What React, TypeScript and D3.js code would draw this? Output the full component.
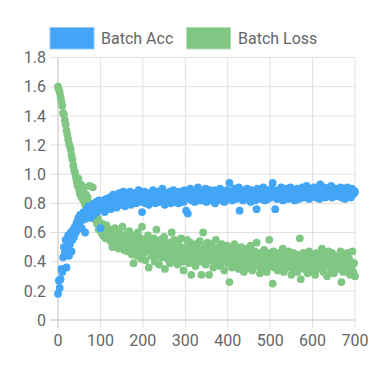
import React from "react";
import * as d3 from "d3";

// Batch index step between logged points
const BATCH_STEP = 2;

const seriesNames = ["Batch Acc", "Batch Loss"];

const batchAcc = [
  0.18, 0.27, 0.22, 0.28, 0.35, 0.33, 0.43, 0.50, 0.46, 0.55,
  0.36, 0.48, 0.58, 0.44, 0.52, 0.60, 0.47, 0.55, 0.62, 0.57,
  0.64, 0.60, 0.67, 0.62, 0.70, 0.65, 0.72, 0.68, 0.63, 0.71,
  0.74, 0.69, 0.60, 0.73, 0.76, 0.71, 0.78, 0.74, 0.70, 0.77,
  0.75, 0.79, 0.72, 0.80, 0.76, 0.81, 0.74, 0.78, 0.82, 0.77,
  0.63, 0.79, 0.76, 0.82, 0.78, 0.74, 0.80, 0.83, 0.77, 0.81,
  0.79, 0.84, 0.76, 0.82, 0.80, 0.86, 0.78, 0.83, 0.81, 0.77,
  0.84, 0.80, 0.87, 0.82, 0.79, 0.85, 0.81, 0.88, 0.83, 0.78,
  0.86, 0.82, 0.80, 0.85, 0.83, 0.88, 0.79, 0.84, 0.81, 0.86,
  0.83, 0.87, 0.80, 0.85, 0.82, 0.89, 0.84, 0.81, 0.86, 0.74,
  0.85, 0.82, 0.88, 0.80, 0.84, 0.86, 0.83, 0.79, 0.87, 0.82,
  0.84, 0.81, 0.89, 0.83, 0.86, 0.80, 0.85, 0.82, 0.88, 0.84,
  0.81, 0.86, 0.83, 0.90, 0.82, 0.85, 0.79, 0.87, 0.84, 0.81,
  0.86, 0.83, 0.88, 0.80, 0.85, 0.82, 0.89, 0.84, 0.81, 0.87,
  0.83, 0.86, 0.80, 0.88, 0.84, 0.82, 0.87, 0.85, 0.81, 0.89,
  0.84, 0.75, 0.86, 0.73, 0.88, 0.83, 0.90, 0.85, 0.82, 0.87,
  0.84, 0.81, 0.88, 0.86, 0.83, 0.91, 0.85, 0.82, 0.87, 0.84,
  0.88, 0.82, 0.86, 0.84, 0.90, 0.81, 0.87, 0.85, 0.83, 0.89,
  0.85, 0.82, 0.88, 0.84, 0.86, 0.80, 0.89, 0.85, 0.83, 0.87,
  0.84, 0.90, 0.86, 0.82, 0.88, 0.85, 0.81, 0.87, 0.84, 0.89,
  0.86, 0.83, 0.94, 0.85, 0.88, 0.82, 0.87, 0.84, 0.90, 0.86,
  0.83, 0.88, 0.85, 0.91, 0.75, 0.87, 0.84, 0.89, 0.82, 0.86,
  0.88, 0.84, 0.86, 0.90, 0.83, 0.87, 0.85, 0.81, 0.89, 0.86,
  0.84, 0.88, 0.82, 0.86, 0.76, 0.90, 0.85, 0.87, 0.83, 0.89,
  0.86, 0.84, 0.91, 0.85, 0.82, 0.88, 0.86, 0.83, 0.89, 0.85,
  0.87, 0.84, 0.90, 0.94, 0.85, 0.88, 0.76, 0.86, 0.83, 0.89,
  0.85, 0.88, 0.84, 0.91, 0.86, 0.82, 0.89, 0.87, 0.84, 0.90,
  0.86, 0.83, 0.88, 0.85, 0.91, 0.87, 0.84, 0.89, 0.86, 0.82,
  0.88, 0.85, 0.90, 0.86, 0.83, 0.89, 0.87, 0.84, 0.91, 0.86,
  0.84, 0.89, 0.86, 0.92, 0.85, 0.88, 0.83, 0.87, 0.90, 0.86,
  0.88, 0.85, 0.91, 0.87, 0.84, 0.89, 0.86, 0.90, 0.83, 0.93,
  0.87, 0.85, 0.89, 0.86, 0.91, 0.84, 0.88, 0.86, 0.90, 0.85,
  0.88, 0.86, 0.92, 0.84, 0.89, 0.87, 0.85, 0.90, 0.86, 0.88,
  0.85, 0.89, 0.87, 0.91, 0.84, 0.88, 0.86, 0.90, 0.83, 0.89,
  0.87, 0.91, 0.85, 0.89, 0.88, 0.84, 0.90, 0.86, 0.89, 0.87,
  0.88,
];

const batchLoss = [
  1.60, 1.58, 1.56, 1.53, 1.50, 1.47, 1.42, 1.41, 1.37, 1.34,
  1.30, 1.27, 1.24, 1.21, 1.19, 1.17, 1.13, 1.10, 1.06, 1.03,
  1.01, 0.98, 0.95, 0.92, 0.97, 0.89, 0.86, 0.93, 0.84, 0.88,
  0.82, 0.91, 0.79, 0.86, 0.80, 0.84, 0.77, 0.92, 0.80, 0.75,
  0.78, 0.91, 0.72, 0.75, 0.69, 0.73, 0.66, 0.70, 0.62, 0.67,
  0.64, 0.60, 0.66, 0.58, 0.63, 0.61, 0.56, 0.65, 0.59, 0.62,
  0.57, 0.62, 0.54, 0.60, 0.50, 0.58, 0.55, 0.63, 0.52, 0.59,
  0.56, 0.49, 0.61, 0.53, 0.58, 0.51, 0.64, 0.55, 0.48, 0.57,
  0.52, 0.59, 0.47, 0.55, 0.61, 0.50, 0.56, 0.45, 0.53, 0.39,
  0.58, 0.49, 0.54, 0.44, 0.60, 0.51, 0.47, 0.56, 0.42, 0.64,
  0.50, 0.46, 0.55, 0.41, 0.52, 0.48, 0.58, 0.36, 0.49, 0.53,
  0.44, 0.51, 0.47, 0.56, 0.40, 0.50, 0.62, 0.45, 0.53, 0.38,
  0.48, 0.55, 0.43, 0.50, 0.46, 0.57, 0.35, 0.49, 0.52, 0.42,
  0.47, 0.53, 0.39, 0.50, 0.60, 0.44, 0.48, 0.55, 0.41, 0.51,
  0.45, 0.38, 0.52, 0.47, 0.43, 0.56, 0.40, 0.49, 0.34, 0.46,
  0.50, 0.42, 0.55, 0.46, 0.39, 0.48, 0.53, 0.31, 0.44, 0.51,
  0.41, 0.47, 0.37, 0.52, 0.45, 0.49, 0.40, 0.54, 0.43, 0.31,
  0.46, 0.60, 0.42, 0.50, 0.38, 0.47, 0.53, 0.44, 0.31, 0.48,
  0.41, 0.52, 0.45, 0.36, 0.49, 0.43, 0.55, 0.39, 0.47, 0.42,
  0.50, 0.37, 0.45, 0.52, 0.40, 0.46, 0.34, 0.48, 0.43, 0.51,
  0.39, 0.45, 0.26, 0.49, 0.42, 0.36, 0.47, 0.41, 0.52, 0.38,
  0.44, 0.40, 0.48, 0.35, 0.46, 0.42, 0.50, 0.37, 0.43, 0.33,
  0.47, 0.41, 0.38, 0.49, 0.44, 0.36, 0.45, 0.51, 0.40, 0.34,
  0.43, 0.39, 0.47, 0.42, 0.53, 0.37, 0.45, 0.40, 0.32, 0.46,
  0.41, 0.35, 0.44, 0.48, 0.38, 0.43, 0.33, 0.46, 0.40, 0.55,
  0.37, 0.44, 0.41, 0.25, 0.47, 0.36, 0.42, 0.39, 0.45, 0.34,
  0.40, 0.46, 0.35, 0.43, 0.38, 0.49, 0.33, 0.41, 0.45, 0.37,
  0.42, 0.36, 0.47, 0.39, 0.44, 0.31, 0.40, 0.46, 0.35, 0.43,
  0.38, 0.45, 0.33, 0.41, 0.37, 0.56, 0.28, 0.43, 0.39, 0.46,
  0.35, 0.42, 0.38, 0.44, 0.32, 0.40, 0.47, 0.36, 0.41, 0.34,
  0.43, 0.37, 0.45, 0.31, 0.40, 0.46, 0.35, 0.42, 0.38, 0.44,
  0.36, 0.49, 0.41, 0.33, 0.45, 0.38, 0.43, 0.30, 0.40, 0.47,
  0.37, 0.42, 0.34, 0.46, 0.39, 0.32, 0.44, 0.38, 0.41, 0.35,
  0.43, 0.36, 0.40, 0.47, 0.26, 0.39, 0.33, 0.44, 0.37, 0.41,
  0.34, 0.46, 0.38, 0.42, 0.31, 0.40, 0.36, 0.47, 0.33, 0.39,
  0.30,
];

const xTicks = [0, 100, 200, 300, 400, 500, 600, 700];
const yTicks = [0, 0.2, 0.4, 0.6, 0.8, 1.0, 1.2, 1.4, 1.6, 1.8];
const yTickLabels = ["0", "0.2", "0.4", "0.6", "0.8", "1.0", "1.2", "1.4", "1.6", "1.8"];

const COLORS = ["#42A5F5", "#81C784"];
const BORDERS = ["#90CAF9", "#B5DEB7"];
const FONT = "Roboto, 'Noto Sans', sans-serif";
const TEXT = "#666";

export default function App() {
  const W = 375, H = 375;
  const x = d3.scaleLinear().domain([0, 700]).range([58, 355]);
  const y = d3.scaleLinear().domain([0, 1.8]).range([320, 57.5]);
  const grid = "#e0e0e0";

  const series = [batchLoss, batchAcc]; // loss drawn first, acc on top
  const colorFor = [COLORS[1], COLORS[0]];

  return (
    <svg width={W} height={H} style={{ position: "absolute", left: 0, top: 0, background: "#fff" }}>
      {/* grid */}
      {yTicks.map((t) => (
        <line key={"gy" + t} x1={50} x2={x(700)} y1={y(t)} y2={y(t)} stroke={grid} strokeWidth={1} />
      ))}
      {xTicks.map((t) => (
        <line key={"gx" + t} x1={x(t)} x2={x(t)} y1={y(1.8)} y2={328} stroke={grid} strokeWidth={1} />
      ))}
      <line x1={x(0)} x2={x(0)} y1={y(1.8)} y2={328} stroke="#d0d0d0" strokeWidth={1} />
      <line x1={50} x2={x(700)} y1={y(0)} y2={y(0)} stroke="#d0d0d0" strokeWidth={1} />

      {/* tick labels */}
      {yTicks.map((t, i) => (
        <text key={"ly" + t} x={46} y={y(t)} dy="0.36em" textAnchor="end" fontFamily={FONT} fontSize={16} fill={TEXT}>
          {yTickLabels[i]}
        </text>
      ))}
      {xTicks.map((t) => (
        <text key={"lx" + t} x={x(t)} y={346} textAnchor="middle" fontFamily={FONT} fontSize={16} fill={TEXT}>
          {t}
        </text>
      ))}

      {/* points */}
      {series.map((s, si) => (
        <g key={"s" + si} fill={colorFor[si]}>
          {s.map((v, i) => (
            <circle key={i} cx={x(i * BATCH_STEP)} cy={y(v)} r={3.9} />
          ))}
        </g>
      ))}

      {/* legend */}
      <rect x={50} y={27.5} width={44} height={21.5} fill={COLORS[0]} stroke={BORDERS[0]} strokeWidth={1} />
      <text x={101} y={44} fontFamily={FONT} fontSize={16} fill={TEXT}>{seriesNames[0]}</text>
      <rect x={186.5} y={27.5} width={44} height={21.5} fill={COLORS[1]} stroke={BORDERS[1]} strokeWidth={1} />
      <text x={238} y={44} fontFamily={FONT} fontSize={16} fill={TEXT}>{seriesNames[1]}</text>
    </svg>
  );
}
